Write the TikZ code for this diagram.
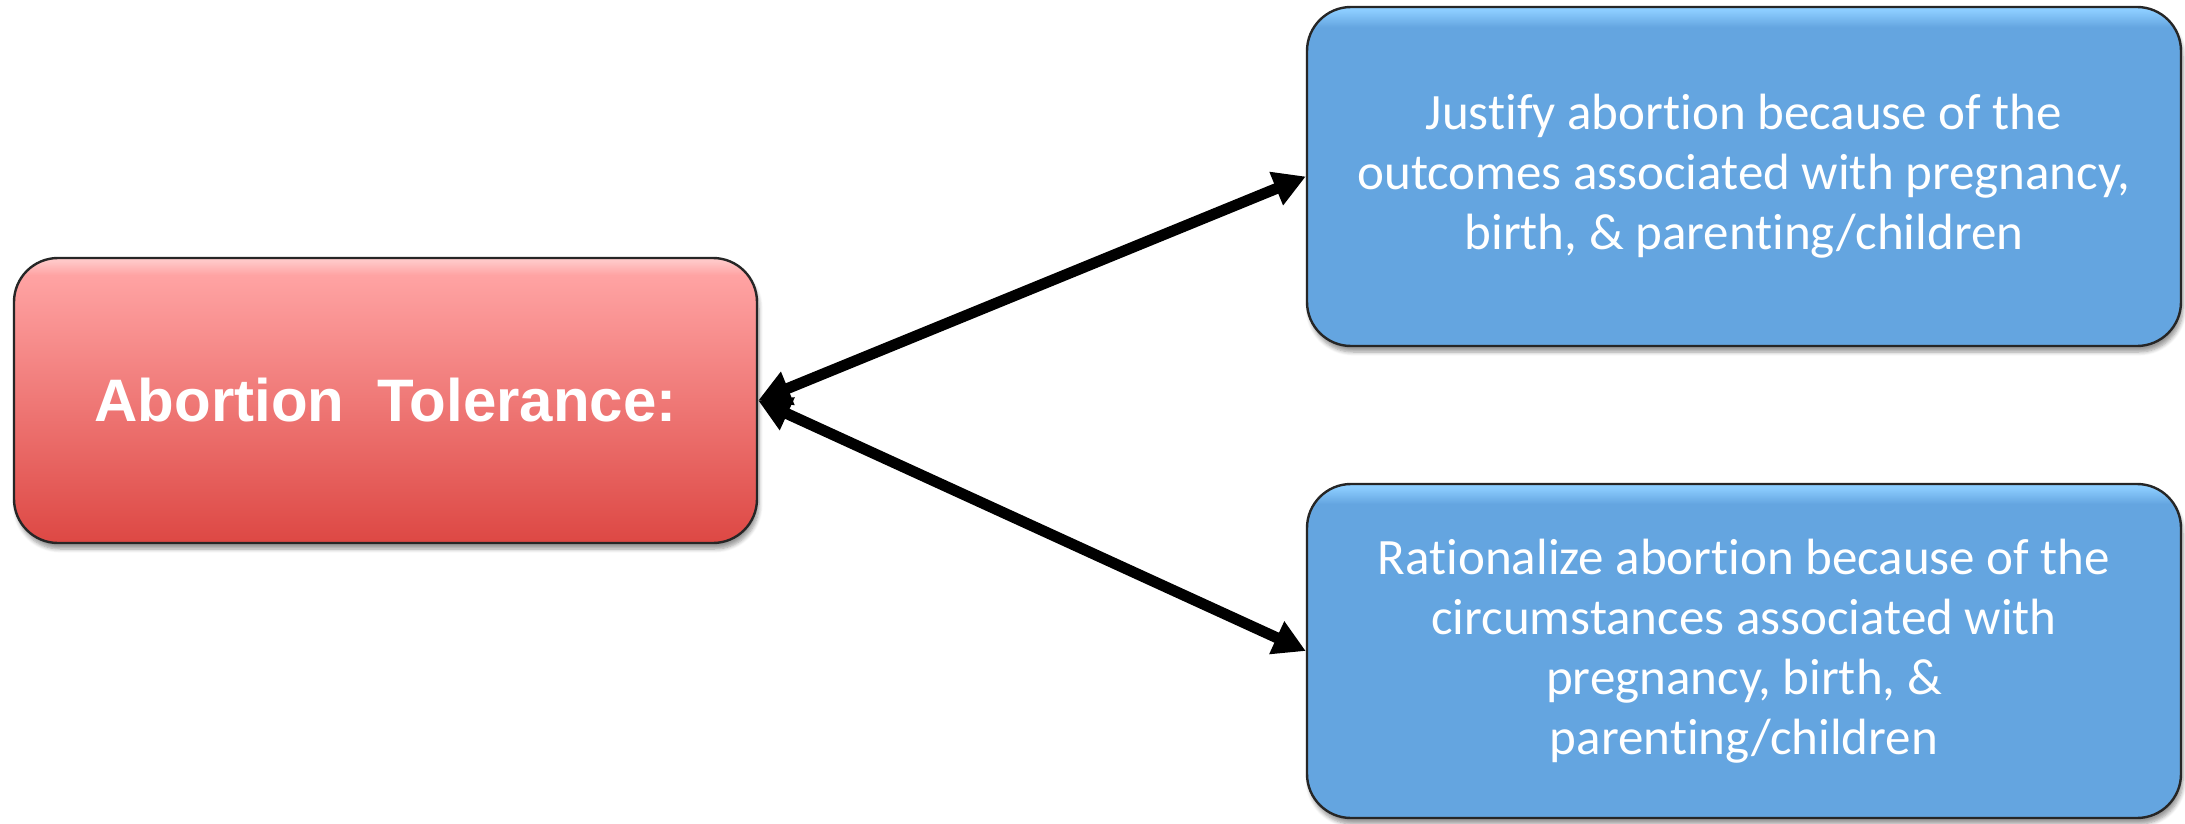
\documentclass[tikz,border=0pt]{standalone}
\usepackage{fontspec}
\setmainfont{Carlito}[Ligatures=NoCommon]
\newfontfamily\headfont{Liberation Sans}
\usetikzlibrary{arrows.meta,shadows.blur}

\definecolor{boxblue}{RGB}{100,165,224}
\definecolor{bluetop}{RGB}{140,205,255}
\definecolor{redtop}{RGB}{255,163,163}
\definecolor{redbot}{RGB}{221,72,68}
\pgfdeclareverticalshading{blueshade}{100bp}{color(0bp)=(boxblue); color(72bp)=(boxblue); color(74.5bp)=(bluetop); color(100bp)=(bluetop)}
\pgfdeclareverticalshading{redshade}{100bp}{color(0bp)=(redbot); color(25bp)=(redbot); color(72bp)=(redtop); color(74.5bp)=(redtop!60!white); color(100bp)=(redtop!60!white)}

\tikzset{
  basebox/.style={draw=black!85, line width=1.2pt, rounded corners=22pt,
    blur shadow={shadow xshift=1pt, shadow yshift=-3pt, shadow blur steps=6, shadow opacity=40}},
  redbox/.style={basebox, shading=redshade, text=white,
    minimum width=371.5pt, minimum height=142.5pt,
    font=\headfont\bfseries\fontsize{30}{36}\selectfont},
  bluebox/.style={basebox, shading=blueshade, text=white, align=center,
    minimum width=437pt, font=\fontsize{25.5}{30}\selectfont},
  link/.style={line width=5.5pt, {Triangle[length=16pt,width=17pt]}-{Triangle[length=16pt,width=17pt]}}
}

\begin{document}
\begin{tikzpicture}[x=0.5pt,y=-0.5pt]
    \useasboundingbox (0,0) rectangle (2185,824);

    % Tolerance box
    \node[redbox] (tolerance) at (385.5,400.5) {Abortion~~Tolerance:};

    % Outcomes and circumstances boxes
    \node[bluebox, minimum height=169.5pt] (outcomes) at (1744,176.5)
        {Justify abortion because of the\\outcomes associated with pregnancy,\\birth, \& parenting/children};
    \node[bluebox, minimum height=167pt] (circumstances) at (1744,651)
        {Rationalize abortion because of the\\circumstances associated with\\pregnancy, birth, \&\\parenting/children};

    % Links
    \draw[link] (tolerance.east) -- (outcomes.west);
    \draw[link] (tolerance.east) -- (circumstances.west);
\end{tikzpicture}
\end{document}
